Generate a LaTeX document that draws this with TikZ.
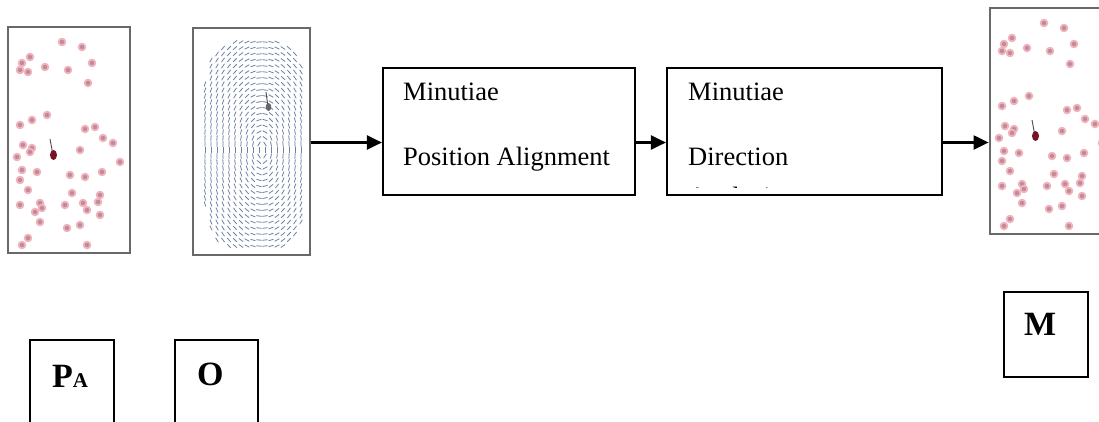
\documentclass[tikz,border=0pt]{standalone}
\usepackage{fontspec}
\setmainfont{Liberation Serif}
\usetikzlibrary{arrows.meta}
\definecolor{dotc}{RGB}{240,178,188}
\definecolor{dotin}{RGB}{190,140,150}
\definecolor{framec}{RGB}{105,105,105}
\definecolor{fieldc}{RGB}{110,130,165}
\definecolor{corec}{RGB}{120,20,35}
\newcommand\mydots{%
  \foreach \x/\y in {62/42,82/47,30/57,22/63,20/70,28/72,45/67,68/70,92/63,88/83,
    47/115,32/120,20/125,85/129,95/127,103/138,113/143,23/145,32/148,30/152,80/150,
    17/157,120/162,22/170,37/172,70/175,85/177,102/172,20/180,28/190,72/193,100/195,
    98/202,20/205,40/203,42/208,35/212,65/205,83/203,87/210,100/215,40/222,67/228,
    80/225,28/238,22/245,87/245}{%
    \fill[dotc] (\x,\y) circle (4.3);
    \fill[dotin] (\x,\y) circle (2.2);
  }%
  \draw[black!70, line width=0.9pt] (53,155) -- (50,139);
  \fill[corec] (53.5,155) ellipse (3.5 and 5);
}
\tikzset{
  imgframe/.style={draw=framec, line width=2.8pt, fill=none, inner sep=0pt},
  procbox/.style={draw, line width=2.2pt, inner sep=0pt},
  smallbox/.style={draw, line width=1.8pt, inner sep=0pt},
  txt/.style={anchor=base west, inner sep=0pt, font=\fontsize{26.5}{30}\selectfont},
  bigletter/.style={anchor=base west, inner sep=0pt, font=\fontsize{34}{36}\selectfont\bfseries},
  flow/.style={line width=2.2pt, -{Triangle[length=15pt,width=14pt]}},
  fieldstroke/.style={draw=fieldc, line width=0.8pt}
}
\begin{document}
\begin{tikzpicture}[x=1pt, y=-1pt]
\clip (0,0) rectangle (1099,421);
\fill[white] (0,0) rectangle (1099,421);

% image P_A
\mydots
\node[imgframe, minimum width=122pt, minimum height=226pt] (imgpa) at (69,140) {};

% image O (orientation field)
\foreach \x in {205,211,...,301} {
  \foreach \y in {42,48,...,246} {
    \pgfmathsetmacro\m{((\x-255)/52)^4+((\y-145)/104)^4}
    \pgfmathsetmacro\ang{atan2((\y-150)/3.2,(\x-262))+90}
    \ifdim\m pt<1pt
      \draw[fieldstroke] (\x,\y) ++(\ang:2.6) -- ++(\ang+180:5.2);
    \fi
  }
}
\draw[black!70, line width=0.9pt] (268,107) -- (266,92);
\fill[black!60] (268.5,107) ellipse (2.8 and 4);
\node[imgframe, minimum width=117pt, minimum height=227pt] (imgo) at (251.5,141.5) {};

% image M
\begin{scope}[shift={(982,-19)}]
\mydots
\end{scope}
\node[imgframe, minimum width=122pt, minimum height=226pt] (imgm) at (1051,121) {};

% process boxes
\node[procbox, minimum width=252pt, minimum height=127pt] (b1) at (509,131.5) {};
\node[procbox, minimum width=275pt, minimum height=127pt] (b2) at (804.5,131.5) {};
\node[txt] (t1) at (403,100) {Minutiae};
\node[txt] (t2) at (403,165) {Position Alignment};
\node[txt] (t3) at (688,100) {Minutiae};
\node[txt] (t4) at (688,165) {Direction};
\begin{scope}
\clip (670,150) rectangle (940,187);
\node[txt] (t5) at (688,205.3) {Analysis};
\end{scope}

% connectors
\coordinate (ay) at (0,142.5);
\draw[flow] (imgo.east |- ay) -- (b1.west |- ay);
\draw[flow] (b1.east |- ay) -- (b2.west |- ay);
\draw[flow] (b2.east |- ay) -- (imgm.west |- ay);

% labels
\node[smallbox, minimum width=84pt, minimum height=100pt] (boxpa) at (72,390) {};
\node[smallbox, minimum width=83pt, minimum height=100pt] (boxo) at (216.5,390) {};
\node[smallbox, minimum width=84pt, minimum height=85pt] (boxm) at (1046,334.5) {};
\node[bigletter] (lpa) at (52,387) {P{\fontsize{21}{21}\selectfont A}};
\node[bigletter] (lo) at (197,385) {O};
\node[bigletter] (lm) at (1024,335) {M};
\end{tikzpicture}
\end{document}
